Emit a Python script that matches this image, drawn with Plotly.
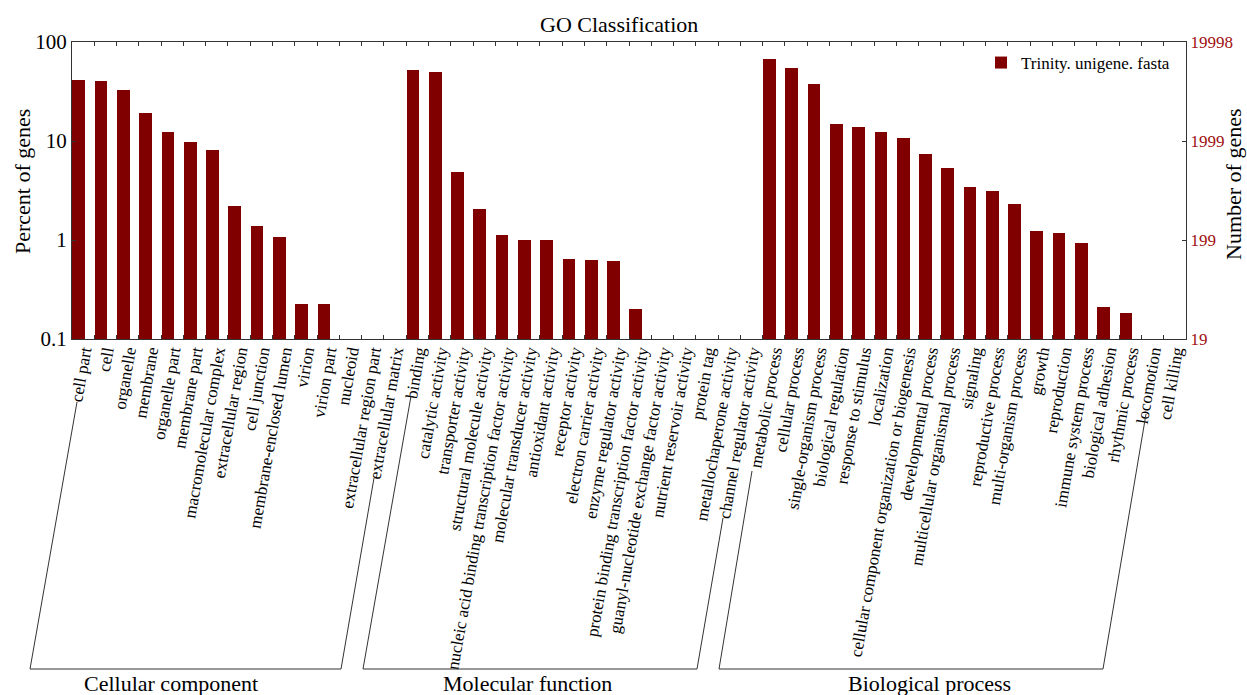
import math
import plotly.graph_objects as go

# GO term categories (level-2) grouped by ontology
cc_terms = ["cell part", "cell", "organelle", "membrane", "organelle part", "membrane part",
            "macromolecular complex", "extracellular region", "cell junction",
            "membrane-enclosed lumen", "virion", "virion part", "nucleoid",
            "extracellular region part", "extracellular matrix"]
cc_pct = [41.1, 40.4, 32.6, 19.1, 12.2, 9.7, 8.1, 2.21, 1.39, 1.08, 0.225, 0.225, None, None, None]

mf_terms = ["binding", "catalytic activity", "transporter activity", "structural molecule activity",
            "nucleic acid binding transcription factor activity", "molecular transducer activity",
            "antioxidant activity", "receptor activity", "electron carrier activity",
            "enzyme regulator activity", "protein binding transcription factor activity",
            "guanyl-nucleotide exchange factor activity", "nutrient reservoir activity",
            "protein tag", "metallochaperone activity", "channel regulator activity"]
mf_pct = [51.8, 50.2, 4.81, 2.04, 1.13, 1.01, 1.00, 0.642, 0.627, 0.617, 0.201,
          None, None, None, None, None]

bp_terms = ["metabolic process", "cellular process", "single-organism process",
            "biological regulation", "response to stimulus", "localization",
            "cellular component organization or biogenesis", "developmental process",
            "multicellular organismal process", "signaling", "reproductive process",
            "multi-organism process", "growth", "reproduction", "immune system process",
            "biological adhesion", "rhythmic process", "locomotion", "cell killing"]
bp_pct = [67.9, 55.1, 37.7, 14.9, 13.7, 12.2, 10.6, 7.36, 5.36, 3.44, 3.13, 2.30,
          1.22, 1.17, 0.925, 0.212, 0.182, None, None]

group_names = ["Cellular component", "Molecular function", "Biological process"]
total_genes = 19998
series_name = "Trinity. unigene. fasta"

terms = cc_terms + mf_terms + bp_terms
pct = cc_pct + mf_pct + bp_pct
counts = [None if p is None else total_genes * p / 100 for p in pct]

FONT = "Liberation Serif"
BAR = "#800000"
RED_TXT = "#A01010"
W, H = 1247, 695
ML, MR, MT, MB = 72, 61, 42, 356
PW, PH = W - ML - MR, H - MT - MB


def px(x, y):
    """pixel position -> paper coordinates"""
    return (x - ML) / PW, (H - MB - y) / PH


fig = go.Figure()
fig.add_trace(go.Bar(x=terms, y=pct, name=series_name, marker=dict(color=BAR, line=dict(width=0)),
                     offset=-0.48, width=0.57, showlegend=True))
# carrier trace for the gene-count axis
fig.add_trace(go.Scatter(x=terms, y=counts, yaxis="y2", mode="markers",
                         marker=dict(opacity=0), hoverinfo="skip", showlegend=False))

# bracket outlines under the tick labels for each ontology
brackets = [
    [(77, 402), (30, 669), (341, 669), (374, 478)],
    [(411, 396), (363, 669), (697, 669), (723, 518)],
    [(752, 471), (719, 669), (1103, 669), (1146, 414)],
]
group_label_x = [171, 527, 929]
shapes = []
for pts in brackets:
    for (x0, y0), (x1, y1) in zip(pts[:-1], pts[1:]):
        a, b = px(x0, y0)
        c, d = px(x1, y1)
        shapes.append(dict(type="line", xref="paper", yref="paper", x0=a, y0=b, x1=c, y1=d,
                           line=dict(color="#333333", width=1)))

annotations = []
for name, gx in zip(group_names, group_label_x):
    a, b = px(gx, 683)
    annotations.append(dict(text=name, xref="paper", yref="paper", x=a, y=b, showarrow=False,
                            xanchor="center", yanchor="middle",
                            font=dict(family=FONT, size=22, color="black")))
a, b = px(619, 24)
annotations.append(dict(text="GO Classification", xref="paper", yref="paper", x=a, y=b,
                        showarrow=False, xanchor="center", yanchor="middle",
                        font=dict(family=FONT, size=22, color="black")))
a, b = px(22, 182)
annotations.append(dict(text="Percent of genes", xref="paper", yref="paper", x=a, y=b,
                        showarrow=False, textangle=-90, xanchor="center", yanchor="middle",
                        font=dict(family=FONT, size=22, color="black")))
a, b = px(1233, 184)
annotations.append(dict(text="Number of genes", xref="paper", yref="paper", x=a, y=b,
                        showarrow=False, textangle=-90, xanchor="center", yanchor="middle",
                        font=dict(family=FONT, size=22, color="black")))

pct_ticks = [0.1, 1, 10, 100]
count_ticks = [total_genes * t / 100 for t in pct_ticks]

fig.update_layout(
    width=W, height=H,
    margin=dict(l=ML, r=MR, t=MT, b=MB, pad=0),
    paper_bgcolor="white", plot_bgcolor="white",
    font=dict(family=FONT, color="black"),
    bargap=0,
    xaxis=dict(type="category", range=[-0.5, len(terms) - 0.5], tickson="boundaries",
               ticks="inside", ticklen=4, tickcolor="#333333", showline=True,
               linecolor="#333333", linewidth=1, mirror="ticks", tickangle=-80,
               ticklabelstandoff=-5,
               tickfont=dict(family=FONT, size=17, color="black"), showgrid=False),
    yaxis=dict(type="log", range=[-1, 2], tickvals=pct_ticks,
               ticktext=["0.1", "1", "10", "100"], ticks="inside", ticklen=4,
               tickcolor="#333333", showline=True, linecolor="#333333", linewidth=1,
               mirror=True, showgrid=False, zeroline=False,
               tickfont=dict(family=FONT, size=21, color="black")),
    yaxis2=dict(type="log", overlaying="y", side="right", anchor="x",
                range=[math.log10(count_ticks[0]), math.log10(count_ticks[-1])],
                tickvals=count_ticks, ticktext=[str(int(c)) for c in count_ticks],
                ticks="inside", ticklen=4, tickcolor="#333333", showline=True,
                linecolor="#333333", linewidth=1, showgrid=False, zeroline=False,
                tickfont=dict(family=FONT, size=17, color=RED_TXT)),
    legend=dict(x=px(1175, 0)[0], y=px(0, 45)[1], xanchor="right", yanchor="top",
                bgcolor="rgba(0,0,0,0)", borderwidth=0,
                font=dict(family=FONT, size=17, color="black")),
    shapes=shapes,
    annotations=annotations,
)

fig.write_html("out.html")
